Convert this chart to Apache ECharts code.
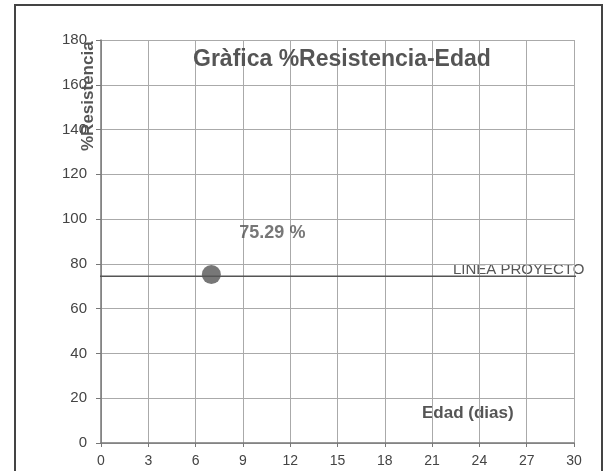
<!DOCTYPE html>
<html><head><meta charset="utf-8">
<script src="https://cdn.jsdelivr.net/npm/echarts@6/dist/echarts.min.js"></script>
<style>html,body{margin:0;padding:0;background:#fff}#c{width:605px;height:471px}</style>
</head><body><div id="c"></div>
<script>
var xTicks = [0,3,6,9,12,15,18,21,24,27,30];
var yTicks = [0,20,40,60,80,100,120,140,160,180];
var pointAge = [7];
var pointResist = [75.29];
var pointLabel = ['75.29 %'];
var projectLineX = [-0.4, 30.4];
var projectLineY = [74.5, 74.5];
var titleText = 'Gràfica %Resistencia-Edad';
var yName = '%Resistencia';
var xName = 'Edad (dias)';
var lineName = 'LINEA PROYECTO';

var chart = echarts.init(document.getElementById('c'), null, {renderer:'canvas'});
var font = 'Liberation Sans, Arial, sans-serif';
chart.setOption({
  animation:false,
  backgroundColor:'#fff',
  title:{text:titleText, left:188, top:43, textStyle:{fontFamily:font, fontSize:23, fontWeight:'bold', color:'#555'}},
  grid:{left:101, right:31, top:40, bottom:28, containLabel:false},
  graphic:[
    {type:'rect', shape:{x:15, y:5, width:587, height:480}, style:{fill:null, stroke:'#444', lineWidth:2}, z:-1},
    {type:'text', x:80, y:151, rotation:Math.PI/2, style:{text:yName, font:'bold 17px '+font, fill:'#555'}, z:10},
    {type:'text', x:422, y:405, style:{text:xName, font:'bold 17px '+font, fill:'#555'}},
    {type:'text', x:453, y:262, style:{text:lineName, font:'15px '+font, fill:'#555'}}
  ],
  xAxis:{type:'value', min:xTicks[0], max:xTicks[xTicks.length-1], interval:3,
    axisLine:{lineStyle:{color:'#777', width:1.5}},
    axisTick:{show:true, length:4, lineStyle:{color:'#777'}},
    axisLabel:{fontFamily:font, fontSize:14, color:'#444', margin:11},
    splitLine:{show:true, lineStyle:{color:'#aaa', width:1}}},
  yAxis:{type:'value', min:yTicks[0], max:yTicks[yTicks.length-1], interval:20,
    axisLine:{show:true, lineStyle:{color:'#777', width:1.5}},
    axisTick:{show:true, length:5, lineStyle:{color:'#777'}},
    axisLabel:{fontFamily:font, fontSize:15, color:'#444', margin:14},
    splitLine:{show:true, lineStyle:{color:'#aaa', width:1}}},
  series:[
    {type:'line', data:projectLineX.map(function(x,i){return [x, projectLineY[i]];}),
     showSymbol:false, clip:false, lineStyle:{color:'#555', width:1.5}, z:3},
    {type:'scatter', data:pointAge.map(function(x,i){return [x, pointResist[i]];}),
     symbolSize:19, itemStyle:{color:'#555'}, z:5,
     label:{show:true, position:'top', offset:[61,-18], formatter:function(p){return pointLabel[p.dataIndex];},
       fontFamily:font, fontSize:18, fontWeight:'bold', color:'#555'}}
  ]
});
</script></body></html>
